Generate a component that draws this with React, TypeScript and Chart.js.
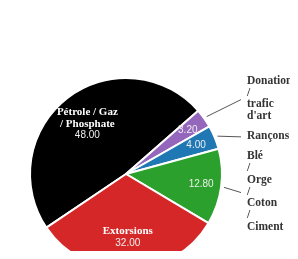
import React, { useEffect, useRef } from "react";
import { Chart, registerables } from "chart.js";

Chart.register(...registerables);

const categories = [
  "Pétrole / Gaz / Phosphate",
  "Donations / trafic d'art",
  "Rançons",
  "Blé / Orge / Coton / Ciment",
  "Extorsions",
];
const values = [48, 3.2, 4, 12.8, 32];
const colors = ["#000000", "#9467bd", "#1f77b4", "#2ca02c", "#d62728"];

const NAME_FONT_IN = 'bold 11px "Liberation Serif", serif';
const NAME_FONT_OUT = 'bold 11.5px "Liberation Serif", serif';
const VALUE_FONT = '10px "Liberation Sans", sans-serif';
const LH = 11.7;

function wrap(ctx: CanvasRenderingContext2D, text: string, maxW: number) {
  const words = text.split(" ");
  const lines: string[] = [];
  let cur = "";
  for (const w of words) {
    const t = cur ? cur + " " + w : w;
    if (cur && ctx.measureText(t).width > maxW) {
      lines.push(cur);
      cur = w;
    } else cur = t;
  }
  if (cur) lines.push(cur);
  return lines;
}

const labelPlugin = {
  id: "pieLabels",
  afterDatasetsDraw(chart: any) {
    const ctx: CanvasRenderingContext2D = chart.ctx;
    const meta = chart.getDatasetMeta(0);
    const total = values.reduce((a, b) => a + b, 0);
    const outside: any[] = [];
    ctx.save();
    ctx.textAlign = "center";
    ctx.textBaseline = "middle";
    meta.data.forEach((arc: any, i: number) => {
      const { x, y, startAngle, endAngle, outerRadius } = arc.getProps(
        ["x", "y", "startAngle", "endAngle", "outerRadius"],
        true
      );
      const mid = (startAngle + endAngle) / 2;
      const val = values[i].toFixed(2);
      const frac = values[i] / total;
      if (frac >= 0.2) {
        ctx.font = NAME_FONT_IN;
        const lines = wrap(ctx, categories[i], 64);
        const all = lines.length + 1;
        const r = outerRadius * 0.66;
        const cx = x + r * Math.cos(mid);
        const cy = y + r * Math.sin(mid);
        let ly = cy - ((all - 1) * LH) / 2;
        ctx.fillStyle = "#ffffff";
        lines.forEach((l) => {
          ctx.fillText(l, cx, ly);
          ly += LH;
        });
        ctx.font = VALUE_FONT;
        ctx.fillStyle = "#eeeeee";
        ctx.fillText(val, cx, ly);
      } else {
        const r = outerRadius * 0.79;
        ctx.font = VALUE_FONT;
        ctx.fillStyle = "#eeeeee";
        ctx.fillText(val, x + r * Math.cos(mid), y + r * Math.sin(mid));
        const lines = categories[i].split(" ");
        const rr = outerRadius + 34;
        outside.push({
          i,
          lines,
          mid,
          x,
          y,
          R: outerRadius,
          cy: y + rr * Math.sin(mid),
          h: lines.length * LH,
        });
      }
    });
    outside.sort((a, b) => a.cy - b.cy);
    for (let k = 1; k < outside.length; k++) {
      const p = outside[k - 1];
      const c = outside[k];
      const minCy = p.cy + p.h / 2 + 8 + c.h / 2;
      if (c.cy < minCy) c.cy = minCy;
    }
    outside.forEach((o) => {
      const sx = o.x + (o.R + 3) * Math.cos(o.mid);
      const sy = o.y + (o.R + 3) * Math.sin(o.mid);
      const ex = o.x + o.R + 19;
      ctx.strokeStyle = "#555555";
      ctx.lineWidth = 1;
      ctx.beginPath();
      ctx.moveTo(sx, sy);
      ctx.lineTo(ex, o.cy + 1);
      ctx.stroke();
      ctx.font = NAME_FONT_OUT;
      ctx.fillStyle = "#333333";
      ctx.textAlign = "left";
      let ly = o.cy - ((o.lines.length - 1) * LH) / 2;
      o.lines.forEach((l: string) => {
        ctx.fillText(l, o.x + o.R + 25, ly);
        ly += LH;
      });
    });
    ctx.restore();
  },
};

export default function App() {
  const ref = useRef<HTMLCanvasElement>(null);
  useEffect(() => {
    document.documentElement.style.overflow = "hidden";
    document.body.style.overflow = "hidden";
    const root = document.getElementById("root");
    if (root) root.style.width = "290px";
    if (!ref.current) return;
    const chart = new Chart(ref.current, {
      type: "pie",
      data: {
        labels: categories,
        datasets: [
          {
            data: values,
            backgroundColor: colors,
            borderColor: "#ffffff",
            borderWidth: 2,
          },
        ],
      },
      options: {
        responsive: false,
        animation: false,
        devicePixelRatio: 1,
        rotation: 236,
        layout: { padding: { left: 21, top: 69, right: 75, bottom: 37 } },
        plugins: {
          legend: { display: false },
          tooltip: { enabled: false },
        },
      },
      plugins: [labelPlugin],
    });
    return () => chart.destroy();
  }, []);
  return (
    <div
      style={{
        position: "relative",
        width: 290,
        height: 243,
        overflow: "hidden",
      }}
    >
      <div
        style={{
          position: "absolute",
          left: 283,
          top: 0,
          width: 1,
          height: 243,
          background: "#e3e3e3",
        }}
      />
      <canvas
        ref={ref}
        width={290}
        height={300}
        style={{ display: "block", position: "relative" }}
      />
    </div>
  );
}
